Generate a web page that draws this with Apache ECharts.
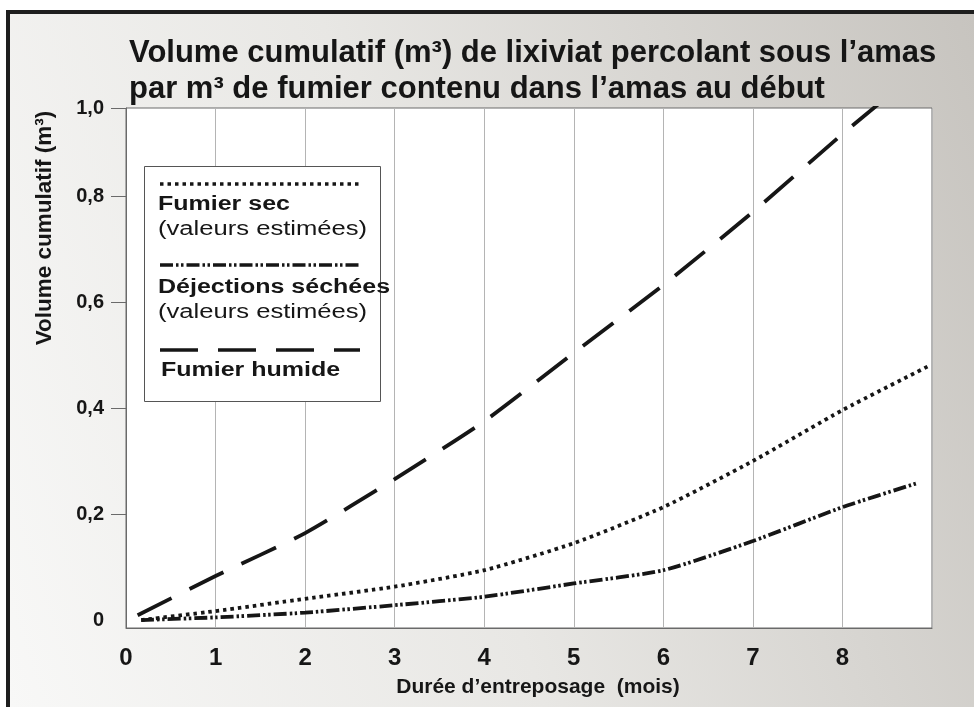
<!DOCTYPE html>
<html>
<head>
<meta charset="utf-8">
<script src="https://cdn.jsdelivr.net/npm/echarts@6/dist/echarts.min.js"></script>
<style>
  html, body { margin: 0; padding: 0; background: #fff; }
  .frame {
    position: absolute; left: 6px; top: 10px; right: 0; bottom: 0;
    border-top: 4px solid #1e1e1e; border-left: 4px solid #1e1e1e;
    background: linear-gradient(72deg, #f8f8f7 0%, #e8e7e4 45%, #c7c4bf 100%);
  }
  #chart { position: absolute; left: 0; top: 0; width: 974px; height: 707px; }
</style>
</head>
<body>
<div class="frame"></div>
<div id="chart"></div>
<script>
// mois / volume cumulatif (m3 par m3 de fumier)
const MONTHS_SEC = [0.17, 1, 2, 3, 4, 5, 6, 7, 8, 8.96]
const FUMIER_SEC = [0, 0.017, 0.04, 0.063, 0.094, 0.145, 0.213, 0.30, 0.396, 0.479]

const MONTHS_DEJ = [0.17, 1, 2, 3, 4, 5, 6, 7, 8, 8.83]
const DEJECTIONS = [0, 0.005, 0.014, 0.028, 0.044, 0.069, 0.094, 0.149, 0.213, 0.258]

const MONTHS_HUM = [0.13, 1, 2, 3, 4, 5, 6, 7, 8, 8.45]
const FUMIER_HUMIDE = [0.009, 0.083, 0.164, 0.266, 0.375, 0.504, 0.632, 0.77, 0.917, 0.98]

const X_MAX = 9
const Y_MIN = -0.015
const Y_MAX = 0.966
const Y_TICKS = [0, 0.2, 0.4, 0.6, 0.8, Y_MAX]
const Y_LABELS = ['0', '0,2', '0,4', '0,6', '0,8', '1,0']

const INK = '#161616'
const FONT = '"Liberation Sans", Arial, sans-serif'

const DOTTED = [3.5, 4]
const DASH_DOT = [13, 3, 2.5, 2.5, 2.5, 3]
const DASHED = [38, 20]

const zip = (xs, ys) => xs.map((x, i) => [x, ys[i]])

function lineSeries(name, data, dash) {
  return {
    name, type: 'line', data, showSymbol: false, smooth: 0.2,
    lineStyle: { color: INK, width: 3.8, type: dash, cap: 'butt' },
    animation: false
  }
}

function legendText(text, x, y, bold) {
  return {
    type: 'text', x, y, scaleX: bold ? 1.25 : 1.28, z: 101,
    style: { text, font: (bold ? 'bold ' : '') + '20px ' + FONT, fill: INK, verticalAlign: 'middle' }
  }
}
function legendLine(y, dash) {
  return {
    type: 'line', z: 101,
    shape: { x1: 160, y1: y, x2: 360, y2: y },
    style: { stroke: INK, lineWidth: 3.5, lineDash: dash }
  }
}

const chart = echarts.init(document.getElementById('chart'))
chart.setOption({
  animation: false,
  backgroundColor: 'transparent',
  title: {
    text: 'Volume cumulatif (m³) de lixiviat percolant sous l’amas\npar m³ de fumier contenu dans l’amas au début',
    left: 124, top: 30,
    textStyle: { fontFamily: FONT, fontSize: 31, fontWeight: 'bold', color: INK, lineHeight: 36 }
  },
  grid: {
    left: 126, top: 108, right: 42, bottom: 79,
    show: true, backgroundColor: '#fff', borderColor: '#6a6a6a', borderWidth: 1
  },
  xAxis: {
    type: 'value', min: 0, max: X_MAX, interval: 1,
    name: 'Durée d’entreposage  (mois)', nameLocation: 'middle', nameGap: 49,
    nameTextStyle: { fontFamily: FONT, fontSize: 21, fontWeight: 'bold', color: INK, padding: [0, 0, 0, 18] },
    axisLine: { onZero: false, lineStyle: { color: '#6a6a6a', width: 1 } },
    axisTick: { show: false },
    axisLabel: {
      margin: 18, fontFamily: FONT, fontSize: 24, fontWeight: 'bold', color: INK,
      formatter: v => (v >= X_MAX ? '' : String(v))
    },
    splitLine: { show: true, lineStyle: { color: '#b4b4b4', width: 1 } }
  },
  yAxis: {
    type: 'value', min: Y_MIN, max: Y_MAX,
    axisLine: { show: true, onZero: false, lineStyle: { color: '#6a6a6a', width: 1 } },
    axisTick: { show: true, customValues: Y_TICKS.slice(1), length: 15, lineStyle: { color: '#6a6a6a' } },
    axisLabel: {
      customValues: Y_TICKS, margin: 22,
      fontFamily: FONT, fontSize: 20, fontWeight: 'bold', color: INK,
      formatter: v => Y_LABELS[Y_TICKS.indexOf(v)] ?? ''
    },
    splitLine: { show: false }
  },
  graphic: [
    {
      type: 'text', x: 45, y: 228, rotation: Math.PI / 2,
      style: { text: 'Volume cumulatif (m³)', font: 'bold 22.5px ' + FONT, fill: INK, align: 'center', verticalAlign: 'middle' }
    },
    {
      type: 'rect', z: 100,
      shape: { x: 144.5, y: 166.5, width: 236, height: 235 },
      style: { fill: '#fff', stroke: '#555', lineWidth: 1 }
    },
    legendLine(184, DOTTED),
    legendText('Fumier sec', 158, 204, true),
    legendText('(valeurs estimées)', 158, 229, false),
    legendLine(265, DASH_DOT),
    legendText('Déjections séchées', 158, 287, true),
    legendText('(valeurs estimées)', 158, 312, false),
    legendLine(350, DASHED),
    legendText('Fumier humide', 161, 370, true)
  ],
  series: [
    lineSeries('Fumier sec', zip(MONTHS_SEC, FUMIER_SEC), DOTTED),
    lineSeries('Déjections séchées', zip(MONTHS_DEJ, DEJECTIONS), DASH_DOT),
    lineSeries('Fumier humide', zip(MONTHS_HUM, FUMIER_HUMIDE), DASHED)
  ]
})
</script>
</body>
</html>
